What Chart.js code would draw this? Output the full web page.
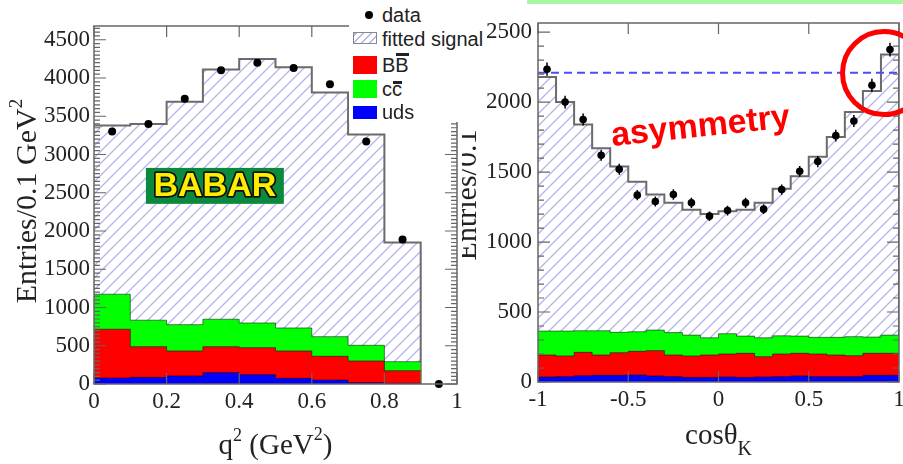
<!DOCTYPE html>
<html>
<head>
<meta charset="utf-8">
<script src="https://cdn.jsdelivr.net/npm/chart.js@4.4.1/dist/chart.umd.min.js"></script>
<style>
  body { margin: 0; background: #fff; }
  #wrap { position: relative; width: 903px; height: 464px; overflow: hidden; background: #fff; }
  #q2 { position: absolute; left: 0; top: 0; }
  #cosk { position: absolute; left: 460px; top: 0; }
  #topbar { position: absolute; left: 527px; top: 0; width: 376px; height: 4px; background: #a9f7a3; }
  #legend { position: absolute; left: 349px; top: 0; width: 136px; height: 122px; background: #fff;
    font: 20px 'Liberation Sans', Arial, sans-serif; color: #222; }
  #legend .row { position: absolute; left: 0; width: 136px; height: 24px; line-height: 24px; }
  #legend .key { position: absolute; left: 4px; width: 24px; }
  #legend .txt { position: absolute; left: 33px; white-space: nowrap; }
  #legend .ov { position: relative; }
  #legend .ov::before { content: ''; position: absolute; left: 1px; right: 0; height: 2.5px; background: #222; }
  #legend .ovB::before { top: -1px; }
  #legend .ovc::before { top: 3px; }
</style>
</head>
<body>
<div id="wrap">
  <canvas id="q2" width="500" height="464"></canvas>
  <canvas id="cosk" width="443" height="464"></canvas>
  <div id="topbar"></div>
  <div id="legend">
    <div class="row" style="top:3px"><span class="key" style="left:16px;top:8px;width:8px;height:8px;border-radius:50%;background:#000"></span><span class="txt">data</span></div>
    <div class="row" style="top:27px"><span class="key" style="top:5px;height:12px;border:1px solid #888;box-sizing:border-box;background:repeating-linear-gradient(-45deg,#fff 0 4px,#b3b3ee 4px 5.5px)"></span><span class="txt">fitted signal</span></div>
    <div class="row" style="top:53px"><span class="key" style="top:3px;height:18px;background:#ff0000"></span><span class="txt">B<span class="ov ovB">B</span></span></div>
    <div class="row" style="top:77px"><span class="key" style="top:3px;height:18px;background:#00ff00"></span><span class="txt">c<span class="ov ovc">c</span></span></div>
    <div class="row" style="top:100px"><span class="key" style="top:6px;height:13px;background:#0000ff"></span><span class="txt">uds</span></div>
  </div>
</div>
<script>
// q2 projection, 0.1 GeV^2 bins
const q2Edges = [0, 0.1, 0.2, 0.3, 0.4, 0.5, 0.6, 0.7, 0.8, 0.9];
const q2Centers = [0.05, 0.15, 0.25, 0.35, 0.45, 0.55, 0.65, 0.75, 0.85, 0.95];
const q2Data = [3300, 3400, 3730, 4100, 4200, 4130, 3920, 3170, 1890, 0];
const q2Fit = [3380, 3400, 3690, 4110, 4250, 4140, 3810, 3260, 1850];
const q2Uds = [78, 87, 105, 148, 122, 74, 52, 17, 10];
const q2BB = [638, 401, 327, 340, 353, 358, 310, 284, 164];
const q2CC = [458, 346, 344, 359, 323, 301, 257, 205, 118];
const q2XTicks = [0, 0.2, 0.4, 0.6, 0.8, 1];
const q2YTicks = [0, 500, 1000, 1500, 2000, 2500, 3000, 3500, 4000, 4500];

// cos(theta_K) projection, 0.1 bins
const cosEdges = [-1, -0.9, -0.8, -0.7, -0.6, -0.5, -0.4, -0.3, -0.2, -0.1, 0,
  0.1, 0.2, 0.3, 0.4, 0.5, 0.6, 0.7, 0.8, 0.9, 1];
const cosCenters = [-0.95, -0.85, -0.75, -0.65, -0.55, -0.45, -0.35, -0.25, -0.15, -0.05,
  0.05, 0.15, 0.25, 0.35, 0.45, 0.55, 0.65, 0.75, 0.85, 0.95];
const cosData = [2235, 2000, 1875, 1620, 1520, 1335, 1290, 1340, 1280, 1185,
  1225, 1280, 1235, 1375, 1505, 1575, 1760, 1865, 2120, 2375];
const cosErr = [47, 45, 43, 40, 39, 37, 36, 37, 36, 34, 35, 36, 35, 37, 39, 40, 42, 43, 46, 49];
const cosFit = [2180, 2000, 1840, 1670, 1540, 1430, 1340, 1280, 1230, 1200,
  1220, 1230, 1280, 1380, 1470, 1610, 1750, 1930, 2080, 2340];
const cosUds = [36, 38, 45, 48, 48, 50, 43, 38, 33, 33, 36, 33, 36, 38, 43, 38, 38, 38, 48, 48];
const cosBB = [157, 148, 167, 145, 161, 169, 181, 155, 153, 160, 164, 172, 145, 162, 162, 162, 155, 150, 157, 157];
const cosCC = [171, 178, 154, 173, 146, 140, 147, 160, 149, 123, 145, 123, 135, 130, 123, 119, 126, 136, 116, 130];
const cosLevelX = [-1, 1];
const cosLevel = [2210, 2210];
const cosXTicks = [-1, -0.5, 0, 0.5, 1];
const cosYTicks = [0, 500, 1000, 1500, 2000, 2500];

const serif = "'Liberation Serif', 'Times New Roman', serif";
const sans = "'Liberation Sans', Arial, sans-serif";
const edgeLine = 'rgba(0,0,0,0.5)';

function makeHatch() {
  const c = document.createElement('canvas');
  c.width = 12;
  c.height = 12;
  const g = c.getContext('2d');
  g.strokeStyle = '#b3b3ee';
  g.lineWidth = 1.3;
  g.beginPath();
  g.moveTo(-2, 14); g.lineTo(14, -2);
  g.moveTo(-2, 2); g.lineTo(2, -2);
  g.moveTo(10, 14); g.lineTo(14, 10);
  g.stroke();
  return g.createPattern(c, 'repeat');
}
const hatch = makeHatch();

// bin contents -> points for a stepped line
function stepPoints(edges, values, drop) {
  const pts = values.map((v, i) => ({ x: edges[i], y: v }));
  const last = edges[values.length];
  pts.push({ x: last, y: values[values.length - 1] });
  if (drop) pts.push({ x: last, y: 0 });
  return pts;
}

function stack(...parts) {
  return parts[0].map((_, i) => parts.reduce((s, p) => s + p[i], 0));
}

function histSet(label, points, fillStyle, line, width) {
  return { label: label, data: points, stepped: true, fill: 'origin', backgroundColor: fillStyle,
    borderColor: line, borderWidth: width, pointRadius: 0 };
}

function pointSet(centers, values, errors, radius) {
  return { label: 'data', data: centers.map((x, i) => ({ x: x, y: values[i] })), showLine: false,
    pointRadius: radius, pointBackgroundColor: '#000', pointBorderWidth: 0, errors: errors, clip: false };
}

const fmt = v => String(Math.round(v * 100) / 100);

function axes(xTicks, yTicks, yMax, leftW, bottomH, yPad) {
  const tickFont = { family: serif, size: 23 };
  return {
    x: {
      type: 'linear', min: xTicks[0], max: xTicks[xTicks.length - 1],
      afterBuildTicks: s => { s.ticks = xTicks.map(v => ({ value: v })); },
      afterFit: s => { s.height = bottomH; s.paddingLeft = 0; s.paddingRight = 0; },
      grid: { display: false, drawTicks: false }, border: { display: false },
      ticks: { autoSkip: false, maxRotation: 0, padding: 4, color: '#222', font: tickFont, callback: fmt }
    },
    y: {
      min: 0, max: yMax,
      afterBuildTicks: s => { s.ticks = yTicks.map(v => ({ value: v })); },
      afterFit: s => { s.width = leftW; },
      grid: { display: false, drawTicks: false }, border: { display: false },
      ticks: { autoSkip: false, padding: yPad, color: '#222', font: tickFont, callback: fmt }
    }
  };
}

// text runs of [string, size, rise], e.g. for superscripts
function richText(ctx, runs, x, y, align) {
  let w = 0;
  runs.forEach(r => { ctx.font = r[1] + 'px ' + serif; w += ctx.measureText(r[0]).width; });
  let cx = align === 'center' ? x - w / 2 : x;
  ctx.textAlign = 'left';
  ctx.textBaseline = 'alphabetic';
  runs.forEach(r => {
    ctx.font = r[1] + 'px ' + serif;
    ctx.fillText(r[0], cx, y - r[2]);
    cx += ctx.measureText(r[0]).width;
  });
}

// frame with inward ticks on all four sides
const rootFrame = {
  id: 'rootFrame',
  afterDatasetsDraw(chart, args, opts) {
    const { ctx, chartArea: a, scales: { x, y } } = chart;
    ctx.save();
    ctx.strokeStyle = '#666';
    ctx.lineWidth = 1.2;
    ctx.beginPath();
    for (let i = 0; i * opts.yMinor <= y.max; i++) {
      const py = y.getPixelForValue(i * opts.yMinor);
      const len = i % opts.perMajor === 0 ? 12 : 6;
      ctx.moveTo(a.left, py); ctx.lineTo(a.left + len, py);
      ctx.moveTo(a.right, py); ctx.lineTo(a.right - len, py);
    }
    x.ticks.forEach(t => {
      const px = x.getPixelForValue(t.value);
      ctx.moveTo(px, a.bottom); ctx.lineTo(px, a.bottom - 11);
      ctx.moveTo(px, a.top); ctx.lineTo(px, a.top + 11);
    });
    ctx.stroke();
    ctx.lineWidth = 1.5;
    ctx.strokeRect(a.left, a.top, a.width, a.height);
    ctx.restore();
  }
};

const errorBars = {
  id: 'errorBars',
  afterDatasetsDraw(chart) {
    const { ctx, scales: { y } } = chart;
    chart.data.datasets.forEach((ds, i) => {
      if (!ds.errors) return;
      ctx.save();
      ctx.strokeStyle = '#000';
      ctx.lineWidth = 1.5;
      ctx.beginPath();
      chart.getDatasetMeta(i).data.forEach((pt, j) => {
        const v = ds.data[j].y, e = ds.errors[j];
        ctx.moveTo(pt.x, y.getPixelForValue(v + e));
        ctx.lineTo(pt.x, y.getPixelForValue(v - e));
      });
      ctx.stroke();
      ctx.restore();
    });
  }
};

const q2Notes = {
  id: 'q2Notes',
  afterDraw(chart) {
    const { ctx, chartArea: a, scales: { x, y } } = chart;
    ctx.save();
    // BABAR badge
    const bx0 = x.getPixelForValue(0.143), bx1 = x.getPixelForValue(0.523);
    const by0 = y.getPixelForValue(2825), by1 = y.getPixelForValue(2355);
    ctx.fillStyle = '#0b8a3e';
    ctx.fillRect(bx0, by0, bx1 - bx0, by1 - by0);
    ctx.font = 'bold 34px ' + sans;
    ctx.textAlign = 'center';
    ctx.textBaseline = 'middle';
    ctx.lineJoin = 'round';
    ctx.lineWidth = 3.5;
    ctx.strokeStyle = '#111';
    ctx.strokeText('BABAR', (bx0 + bx1) / 2, (by0 + by1) / 2 + 1);
    ctx.fillStyle = '#ffee00';
    ctx.fillText('BABAR', (bx0 + bx1) / 2, (by0 + by1) / 2 + 1);

    // axis titles
    ctx.fillStyle = '#222';
    richText(ctx, [['q', 29, 0], ['2', 18, 13], [' (GeV', 29, 0], ['2', 18, 14], [')', 29, 0]],
      (a.left + a.right) / 2, a.bottom + 70, 'center');
    ctx.translate(36, (a.top + a.bottom) / 2 - 4);
    ctx.rotate(-Math.PI / 2);
    richText(ctx, [['Entries/0.1 GeV', 30, 0], ['2', 19, 14]], 0, 0, 'center');
    ctx.restore();
  }
};

const cosNotes = {
  id: 'cosNotes',
  afterDraw(chart) {
    const { ctx, chartArea: a, scales: { x, y } } = chart;
    ctx.save();
    ctx.fillStyle = '#222';
    // x title: cos theta with subscript K
    richText(ctx, [['cos\u03b8', 29, 0], ['K', 20, -11]], (a.left + a.right) / 2, a.bottom + 62, 'center');

    // y title, partly hidden behind the neighbouring pad
    ctx.save();
    ctx.beginPath();
    ctx.rect(2, 0, 60, chart.height);
    ctx.clip();
    ctx.translate(16, 195);
    ctx.rotate(-Math.PI / 2);
    richText(ctx, [['Entries/0.1', 30, 0]], 0, 0, 'center');
    ctx.restore();

    // annotation
    ctx.save();
    ctx.fillStyle = '#ff0000';
    ctx.font = 'bold 34px ' + sans;
    ctx.textAlign = 'center';
    ctx.textBaseline = 'alphabetic';
    ctx.translate(x.getPixelForValue(-0.094), y.getPixelForValue(1754));
    ctx.rotate(-6 * Math.PI / 180);
    ctx.fillText('asymmetry', 0, 0);
    ctx.restore();

    ctx.strokeStyle = '#ff0000';
    ctx.lineWidth = 5;
    ctx.beginPath();
    ctx.arc(x.getPixelForValue(0.917), y.getPixelForValue(2207), 41.5, 0, Math.PI * 2);
    ctx.stroke();
    ctx.restore();
  }
};

function makeChart(id, datasets, scales, padding, frame, plugins) {
  return new Chart(document.getElementById(id), {
    type: 'line',
    plugins: plugins,
    data: { datasets: datasets },
    options: {
      responsive: false,
      animation: false,
      events: [],
      layout: { padding: padding },
      scales: scales,
      plugins: { legend: { display: false }, tooltip: { enabled: false }, rootFrame: frame }
    }
  });
}

makeChart('q2', [
  pointSet(q2Centers, q2Data, null, 4),
  histSet('uds', stepPoints(q2Edges, q2Uds), '#0000ff', edgeLine, 1),
  histSet('BB', stepPoints(q2Edges, stack(q2Uds, q2BB)), '#ff0000', edgeLine, 1),
  histSet('cc', stepPoints(q2Edges, stack(q2Uds, q2BB, q2CC)), '#00ff00', edgeLine, 1),
  histSet('fitted signal', stepPoints(q2Edges, q2Fit, true), hatch, '#6b6b6b', 2)
], axes(q2XTicks, q2YTicks, 4680, 94, 80, 4), { top: 26, right: 43, left: 0, bottom: 0 },
  { yMinor: 50, perMajor: 10 }, [rootFrame, q2Notes]);

makeChart('cosk', [
  pointSet(cosCenters, cosData, cosErr, 3.8),
  { label: 'level', data: cosLevelX.map((x, i) => ({ x: x, y: cosLevel[i] })), borderColor: '#4b4bff',
    borderDash: [8, 5], borderWidth: 2, pointRadius: 0, fill: false },
  histSet('uds', stepPoints(cosEdges, cosUds), '#0000ff', edgeLine, 1),
  histSet('BB', stepPoints(cosEdges, stack(cosUds, cosBB)), '#ff0000', edgeLine, 1),
  histSet('cc', stepPoints(cosEdges, stack(cosUds, cosBB, cosCC)), '#00ff00', edgeLine, 1),
  histSet('fitted signal', stepPoints(cosEdges, cosFit, true), hatch, '#6b6b6b', 2)
], axes(cosXTicks, cosYTicks, 2565, 78, 82, 6), { top: 23, right: 3, left: 0, bottom: 0 },
  { yMinor: 100, perMajor: 5 }, [rootFrame, errorBars, cosNotes]);
</script>
</body>
</html>
